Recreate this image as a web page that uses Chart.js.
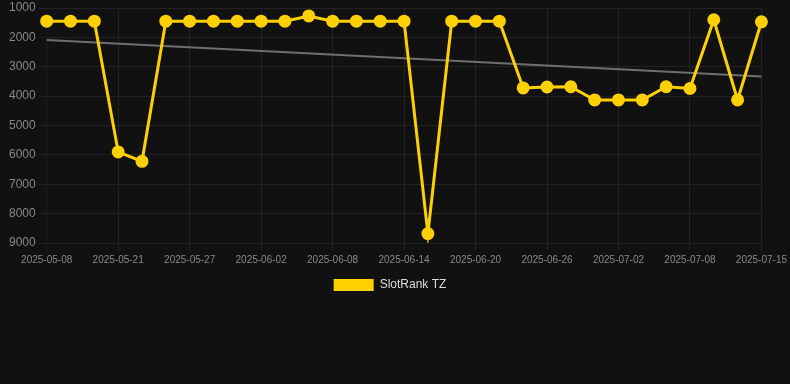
<!DOCTYPE html>
<html>
<head>
<meta charset="utf-8">
<script src="https://cdn.jsdelivr.net/npm/chart.js@4/dist/chart.umd.min.js"></script>
<style>
   html, body { margin: 0; padding: 0; background: #111111; }
   #wrap { width: 790px; height: 301px; position: relative; }
</style>
</head>
<body>
<div id="wrap"><canvas id="rankChart"></canvas></div>
<script>
// tanggal (label sumbu x)
const dates = [
   "2025-05-08", "2025-05-15", "2025-05-19", "2025-05-21", "2025-05-23", "2025-05-25",
   "2025-05-27", "2025-05-29", "2025-05-31", "2025-06-02", "2025-06-04", "2025-06-06",
   "2025-06-08", "2025-06-10", "2025-06-12", "2025-06-14", "2025-06-16", "2025-06-18",
   "2025-06-20", "2025-06-22", "2025-06-24", "2025-06-26", "2025-06-28", "2025-06-30",
   "2025-07-02", "2025-07-04", "2025-07-06", "2025-07-08", "2025-07-10", "2025-07-12",
   "2025-07-15",
];

// peringkat SlotRank TZ
const rankValues = [
   1450, 1450, 1450, 5900, 6220, 1450,
   1450, 1450, 1450, 1450, 1450, 1270,
   1450, 1450, 1450, 1450, 8680, 1450,
   1450, 1450, 3720, 3690, 3680, 4130,
   4130, 4130, 3680, 3740, 1400, 4130,
   1470,
];

// garis tren (awal & akhir)
const trendStart = 2090;
const trendEnd = 3330;

const yTicks = [1000, 2000, 3000, 4000, 5000, 6000, 7000, 8000, 9000];

const trendData = dates.map((d, i) => {
   if (i === 0) return trendStart;
   if (i === dates.length - 1) return trendEnd;
   return null;
});

const ctx = document.getElementById("rankChart").getContext("2d");

new Chart(ctx, {
   type: "line",
   data: {
      labels: dates,
      datasets: [
         {
            label: "SlotRank TZ",
            data: rankValues,
            borderColor: "#ffd000",
            backgroundColor: "#ffd000",
            borderWidth: 3,
            pointRadius: 5,
            pointBackgroundColor: "#ffd000",
            pointBorderColor: "#ffd000",
            tension: 0,
         },
         {
            label: "trend",
            data: trendData,
            borderColor: "#6f6f6f",
            borderWidth: 2,
            pointRadius: 0,
            spanGaps: true,
            fill: false,
         },
      ],
   },
   options: {
      responsive: true,
      maintainAspectRatio: false,
      animation: false,
      layout: { padding: { left: 6, right: 16 } },
      plugins: {
         legend: {
            position: "bottom",
            labels: {
               color: "#dddddd",
               font: { family: "Arial, 'Liberation Sans', sans-serif", size: 12 },
               generateLabels: (chart) => {
                  const items = Chart.defaults.plugins.legend.labels.generateLabels(chart);
                  return items
                     .filter((item) => item.text !== "trend")
                     .map((item) => ({ ...item, lineWidth: 0, fontColor: "#dddddd" }));
               },
            },
         },
         tooltip: { enabled: false },
      },
      scales: {
         y: {
            reverse: true,
            min: 1000,
            max: 9000,
            afterBuildTicks: (axis) => {
               axis.ticks = yTicks.map((v) => ({ value: v }));
            },
            grid: { color: "#222222" },
            ticks: {
               color: "#888888",
               font: { family: "Arial, 'Liberation Sans', sans-serif", size: 12, lineHeight: 0.7 },
               callback: (value) => String(value),
            },
         },
         x: {
            grid: { color: "#222222" },
            ticks: {
               color: "#888888",
               autoSkip: false,
               maxRotation: 0,
               font: { family: "Arial, 'Liberation Sans', sans-serif", size: 10 },
               callback: function (value, index) {
                  return index % 3 === 0 ? dates[index] : null;
               },
            },
         },
      },
   },
});
</script>
</body>
</html>
